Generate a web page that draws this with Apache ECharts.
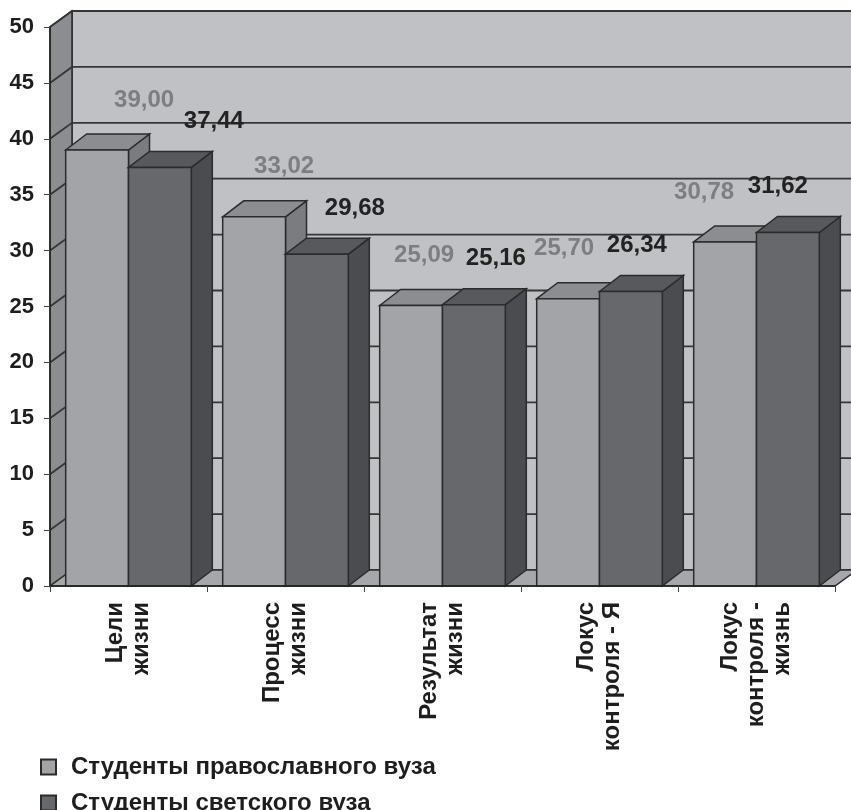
<!DOCTYPE html>
<html>
<head>
<meta charset="utf-8">
<script src="https://cdn.jsdelivr.net/npm/echarts@6/dist/echarts.min.js"></script>
<style>html,body{margin:0;padding:0;background:#fff}#c{width:851px;height:810px}</style>
</head>
<body>
<div id="c"></div>
<script>
const categories = ['Цели\nжизни', 'Процесс\nжизни', 'Результат\nжизни', 'Локус\nконтроля - Я', 'Локус\nконтроля -\nжизнь'];
const orthodox = [39.00, 33.02, 25.09, 25.70, 30.78];
const secular = [37.44, 29.68, 25.16, 26.34, 31.62];
const seriesNames = ['Студенты православного вуза', 'Студенты светского вуза'];
const yMin = 0, yMax = 50, yStep = 5;
const valueLabels = [
  ['39,00', '33,02', '25,09', '25,70', '30,78'],
  ['37,44', '29,68', '25,16', '26,34', '31,62']
];

const FONT = '"Liberation Sans", Arial, sans-serif';
const WDX = 22, WDY = 16;   // wall depth
const BDX = 21, BDY = 16;   // bar depth
const EDGE = '#2b2b2b';

const palette = [
  { front: '#a3a4a8', top: '#8c8d90', side: '#7b7c80', label: '#7d7e81' },
  { front: '#67686c', top: '#58595c', side: '#4b4c4f', label: '#222222' }
];

function wallRender(params, api) {
  const band = api.size([1, 0])[0];
  const c0 = api.coord([0, yMin]);
  const xL = c0[0] - band / 2;
  const xR = xL + band * categories.length;
  const yB = c0[1];
  const yT = api.coord([0, yMax])[1];
  const children = [];
  children.push({ type: 'polygon', shape: { points: [[xL + WDX, yT - WDY], [xR + WDX, yT - WDY], [xR + WDX, yB - WDY], [xL + WDX, yB - WDY]] },
    style: { fill: '#c0c1c4', stroke: EDGE, lineWidth: 1.5 } });
  children.push({ type: 'polygon', shape: { points: [[xL, yB], [xL, yT], [xL + WDX, yT - WDY], [xL + WDX, yB - WDY]] },
    style: { fill: '#8c8d90', stroke: EDGE, lineWidth: 1.5 } });
  children.push({ type: 'polygon', shape: { points: [[xL, yB], [xL + WDX, yB - WDY], [xR + WDX, yB - WDY], [xR, yB]] },
    style: { fill: '#a6a7aa', stroke: EDGE, lineWidth: 1.5 } });
  for (let v = yMin + yStep; v <= yMax; v += yStep) {
    const y = api.coord([0, v])[1];
    children.push({ type: 'polyline', shape: { points: [[xL, y], [xL + WDX, y - WDY], [xR + WDX, y - WDY]] },
      style: { stroke: '#363636', lineWidth: 1.8, fill: null } });
  }
  return { type: 'group', children };
}

function barRender(s) {
  return function (params, api) {
    const idx = api.value(0), val = api.value(1);
    const top = api.coord([idx, val]);
    const bot = api.coord([idx, yMin]);
    const band = api.size([1, 0])[0];
    const w = band * 0.4;
    const x0 = s === 0 ? top[0] - w : top[0];
    const x1 = x0 + w;
    const yt = top[1], yb = bot[1];
    const col = palette[s];
    // perspective-like label drift across categories
    const shift = (s === 0 ? 47 : 54) - idx * (s === 0 ? 17 : 16);
    const lift = s === 0 ? 50 : 46;
    return {
      type: 'group',
      children: [
        { type: 'polygon', shape: { points: [[x1, yt], [x1 + BDX, yt - BDY], [x1 + BDX, yb - BDY], [x1, yb]] },
          style: { fill: col.side, stroke: EDGE, lineWidth: 1.5 } },
        { type: 'polygon', shape: { points: [[x0, yt], [x0 + BDX, yt - BDY], [x1 + BDX, yt - BDY], [x1, yt]] },
          style: { fill: col.top, stroke: EDGE, lineWidth: 1.5 } },
        { type: 'rect', shape: { x: x0, y: yt, width: w, height: yb - yt },
          style: { fill: col.front, stroke: EDGE, lineWidth: 1.5 } },
        { type: 'text', x: (x0 + x1) / 2 + shift, y: yt - lift,
          style: { text: valueLabels[s][idx], fill: col.label, font: 'bold 24px ' + FONT, align: 'center', verticalAlign: 'middle' } }
      ]
    };
  };
}

function legendBox(i, top) {
  return {
    orient: 'horizontal', left: 40, top: top, padding: 0, itemWidth: 15, itemHeight: 15,
    icon: 'rect', selectedMode: false,
    textStyle: { fontFamily: FONT, fontWeight: 'bold', fontSize: 24, color: '#1e1e1e', padding: [0, 0, 0, 10] },
    data: [{ name: seriesNames[i], itemStyle: { color: palette[i].front, borderColor: EDGE, borderWidth: 2 } }]
  };
}

const chart = echarts.init(document.getElementById('c'), null, { renderer: 'canvas' });
chart.setOption({
  animation: false,
  backgroundColor: '#ffffff',
  grid: { left: 50, right: 16, top: 27, bottom: 224, containLabel: false },
  legend: [legendBox(0, 755), legendBox(1, 791)],
  xAxis: {
    type: 'category', data: categories, boundaryGap: true,
    axisLine: { show: true, lineStyle: { color: '#222', width: 1.5 } },
    axisTick: { show: true, length: 6, lineStyle: { color: '#444' } },
    axisLabel: { rotate: 90, margin: 16, fontFamily: FONT, fontWeight: 'bold', fontSize: 24, lineHeight: 26, color: '#1e1e1e', interval: 0 },
    z: 10
  },
  yAxis: {
    type: 'value', min: yMin, max: yMax, interval: yStep,
    axisLine: { show: true, lineStyle: { color: '#222', width: 1.5 } },
    axisTick: { show: true, length: 6, lineStyle: { color: '#444' } },
    axisLabel: { margin: 16, fontFamily: FONT, fontWeight: 'bold', fontSize: 22, color: '#1e1e1e' },
    splitLine: { show: false },
    z: 10
  },
  series: [
    { name: '_wall', type: 'custom', renderItem: wallRender, data: [[0, yMin]], z: 1, silent: true, clip: false },
    { name: seriesNames[0], type: 'custom', renderItem: barRender(0), itemStyle: { color: palette[0].front },
      data: orthodox.map((v, i) => [i, v]), z: 2, clip: false },
    { name: seriesNames[1], type: 'custom', renderItem: barRender(1), itemStyle: { color: palette[1].front },
      data: secular.map((v, i) => [i, v]), z: 3, clip: false }
  ]
});
</script>
</body>
</html>
